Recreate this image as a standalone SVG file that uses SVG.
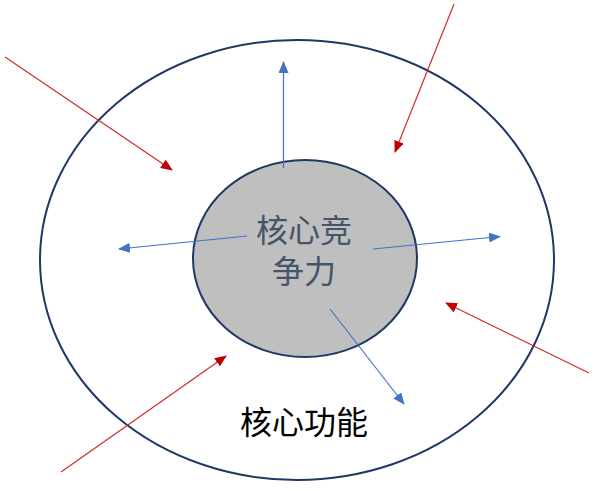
<svg xmlns="http://www.w3.org/2000/svg" width="595" height="491" viewBox="0 0 595 491">
<defs>
<style>
.ring{fill:#ffffff;stroke:#1F3864;stroke-width:2}
.core{fill:#BFBFBF;stroke:#1F3864;stroke-width:2}
.red{stroke:#D42A2A;stroke-width:1.2;fill:none;marker-end:url(#ar)}
.blue{stroke:#4472C4;stroke-width:1.2;fill:none;marker-end:url(#ab)}
.t{font-family:"Liberation Sans","Noto Sans CJK SC","Noto Sans CJK JP",sans-serif;text-anchor:middle}
</style>
<marker id="ar" viewBox="0 0 12 10" refX="11" refY="5" markerWidth="12" markerHeight="10" markerUnits="userSpaceOnUse" orient="auto"><path d="M0,0 L12,5 L0,10 z" fill="#C00000"/></marker>
<marker id="ab" viewBox="0 0 12 10" refX="11" refY="5" markerWidth="12" markerHeight="10" markerUnits="userSpaceOnUse" orient="auto"><path d="M0,0 L12,5 L0,10 z" fill="#4472C4"/></marker>
</defs>
<rect width="595" height="491" fill="#ffffff"/>
<g id="outer"><ellipse class="ring" cx="297" cy="260" rx="257" ry="220"/>
<text class="t" x="304" y="434" font-size="32" fill="#000000">核心功能</text></g>
<g id="core"><ellipse class="core" cx="305" cy="258.5" rx="112" ry="98.5"/>
<text class="t" x="304" y="242" font-size="32" fill="#44546A">核心竞</text>
<text class="t" x="304" y="283" font-size="32" fill="#44546A">争力</text></g>
<g id="connectors">
<line class="red" x1="5" y1="57" x2="172" y2="170"/>
<line class="red" x1="454" y1="4" x2="395" y2="152"/>
<line class="red" x1="589" y1="373" x2="446" y2="303"/>
<line class="red" x1="61" y1="472" x2="226" y2="356"/>
<line class="blue" x1="283.5" y1="168" x2="283.5" y2="62"/>
<line class="blue" x1="247" y1="236" x2="119" y2="249"/>
<line class="blue" x1="373" y1="249" x2="500" y2="236.5"/>
<line class="blue" x1="330" y1="309" x2="404" y2="404"/>
</g>
</svg>
